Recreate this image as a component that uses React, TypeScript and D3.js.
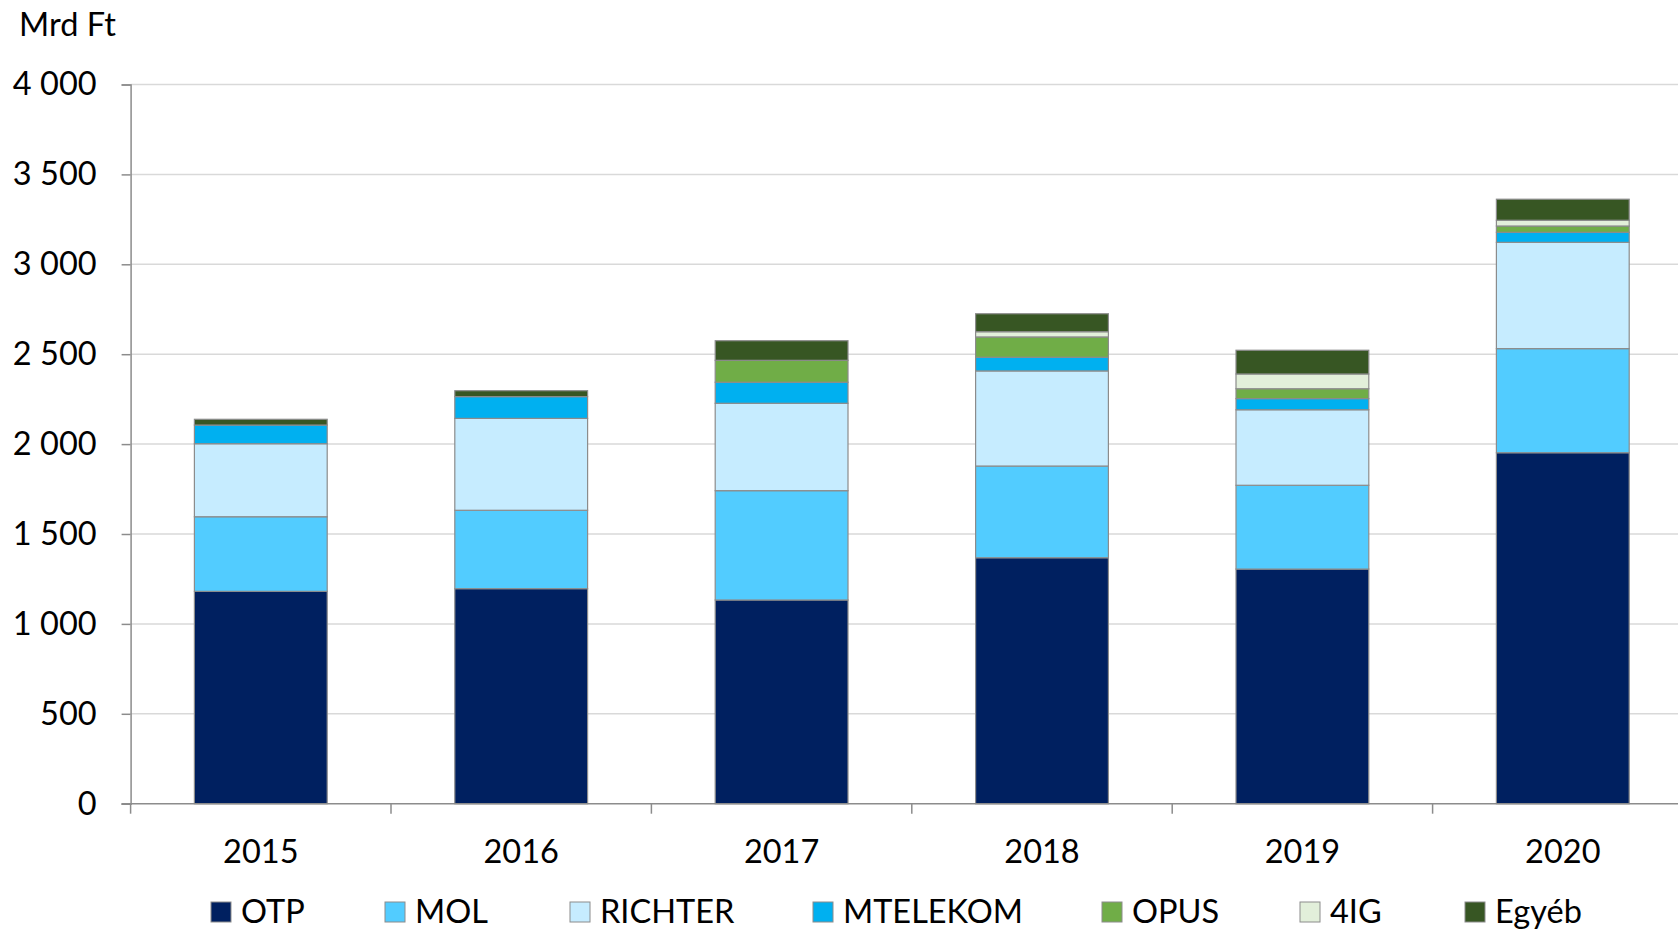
import * as d3 from 'd3';
import React, { useRef, useEffect } from 'react';

const years = ['2015', '2016', '2017', '2018', '2019', '2020'];
const seriesNames = ['OTP', 'MOL', 'RICHTER', 'MTELEKOM', 'OPUS', '4IG', 'Egyéb'];
const seriesColours = ['#002060', '#52CCFF', '#C6ECFF', '#00B0F0', '#70AD47', '#E2EFDA', '#375623'];

const otp = [1181, 1196, 1133, 1368, 1305, 1952];
const mol = [415, 436, 608, 510, 466, 579];
const richter = [406, 511, 486, 529, 420, 591];
const mtelekom = [104, 121, 117, 76, 62, 56];
const opus = [0, 0, 122, 113, 55, 35];
const fourIg = [0, 0, 0, 29, 82, 32];
const egyeb = [32, 33, 109, 100, 132, 117];

const yTicks = [0, 500, 1000, 1500, 2000, 2500, 3000, 3500, 4000];
const unitLabel = 'Mrd Ft';

const W = 1678;
const H = 930;
const FONT = 'Lato, "Noto Sans", sans-serif';
const FS = '32.5px';

export default function App() {
    const ref = useRef<HTMLDivElement>(null);

    useEffect(() => {
        document.body.style.margin = '0';
        d3.select(ref.current).selectAll('svg').remove();

        const svg = d3.select(ref.current)
            .append('svg')
            .attr('width', W)
            .attr('height', H)
            .style('display', 'block')
            .style('font-family', FONT);

        svg.append('rect').attr('width', W).attr('height', H).attr('fill', '#fff');

        const values = [otp, mol, richter, mtelekom, opus, fourIg, egyeb];
        const table = years.map((yr, i) => {
            const row: any = { year: yr };
            seriesNames.forEach((s, k) => { row[s] = values[k][i]; });
            return row;
        });

        const left = 130.6;
        const step = 260.4;
        const x = d3.scaleBand()
            .domain(years)
            .range([left, left + step * years.length])
            .paddingInner(0.49)
            .paddingOuter(0.245);

        const y = d3.scaleLinear()
            .domain([0, 4000])
            .range([803.7, 84.5]);

        // gridlines
        svg.append('g')
            .selectAll('line')
            .data(yTicks.filter(t => t > 0))
            .enter().append('line')
            .attr('x1', left)
            .attr('x2', W)
            .attr('y1', d => y(d))
            .attr('y2', d => y(d))
            .attr('stroke', '#d9d9d9')
            .attr('stroke-width', 1.5);

        // y axis
        const yAxis = svg.append('g')
            .attr('transform', `translate(${left},0)`)
            .call(d3.axisLeft(y).tickValues(yTicks).tickSize(9).tickPadding(25)
                .tickFormat(d => d3.format(',')(d as number).replace(/,/g, ' ')));
        yAxis.select('.domain').attr('stroke', '#8c8c8c').attr('stroke-width', 1.5);
        yAxis.selectAll('.tick line').attr('stroke', '#8c8c8c').attr('stroke-width', 1.5);
        yAxis.selectAll('.tick text')
            .attr('fill', '#000')
            .style('font-size', FS)
            .style('font-family', FONT);

        // stacked bars
        const stacked = d3.stack().keys(seriesNames)(table);
        svg.append('g')
            .selectAll('g')
            .data(stacked)
            .enter().append('g')
            .attr('fill', (d, i) => seriesColours[i])
            .selectAll('rect')
            .data(d => d.filter(p => p[1] - p[0] > 0))
            .enter().append('rect')
            .attr('x', d => x(d.data.year as any) as number)
            .attr('width', x.bandwidth())
            .attr('y', d => y(d[1]))
            .attr('height', d => y(d[0]) - y(d[1]))
            .attr('stroke', '#8c8c8c')
            .attr('stroke-width', 1.2);

        // x axis line and category ticks
        svg.append('line')
            .attr('x1', left - 9)
            .attr('x2', W)
            .attr('y1', y(0))
            .attr('y2', y(0))
            .attr('stroke', '#8c8c8c')
            .attr('stroke-width', 1.5);
        svg.append('g')
            .selectAll('line')
            .data(d3.range(years.length + 1))
            .enter().append('line')
            .attr('x1', i => left + i * x.step())
            .attr('x2', i => left + i * x.step())
            .attr('y1', y(0))
            .attr('y2', y(0) + 10)
            .attr('stroke', '#8c8c8c')
            .attr('stroke-width', 1.5);

        svg.append('g')
            .selectAll('text')
            .data(years)
            .enter().append('text')
            .attr('x', d => (x(d) as number) + x.bandwidth() / 2)
            .attr('y', 852)
            .attr('dy', '0.35em')
            .attr('text-anchor', 'middle')
            .style('font-size', FS)
            .text(d => d);

        svg.append('text')
            .attr('x', 19)
            .attr('y', 25)
            .attr('dy', '0.35em')
            .style('font-size', FS)
            .text(unitLabel);

        // legend
        const legendX = [211, 385, 570, 813, 1102, 1300, 1465];
        const legend = svg.append('g')
            .selectAll('g')
            .data(seriesNames)
            .enter().append('g')
            .attr('transform', (d, i) => `translate(${legendX[i]},912)`);
        legend.append('rect')
            .attr('x', 0)
            .attr('y', -10)
            .attr('width', 20)
            .attr('height', 20)
            .attr('fill', (d, i) => seriesColours[i])
            .attr('stroke', '#8c8c8c')
            .attr('stroke-width', 1);
        legend.append('text')
            .attr('x', 30)
            .attr('y', 0)
            .attr('dy', '0.35em')
            .style('font-size', FS)
            .text(d => d);
    }, []);

    return (
        <div ref={ref}>
        </div>
    );
}
